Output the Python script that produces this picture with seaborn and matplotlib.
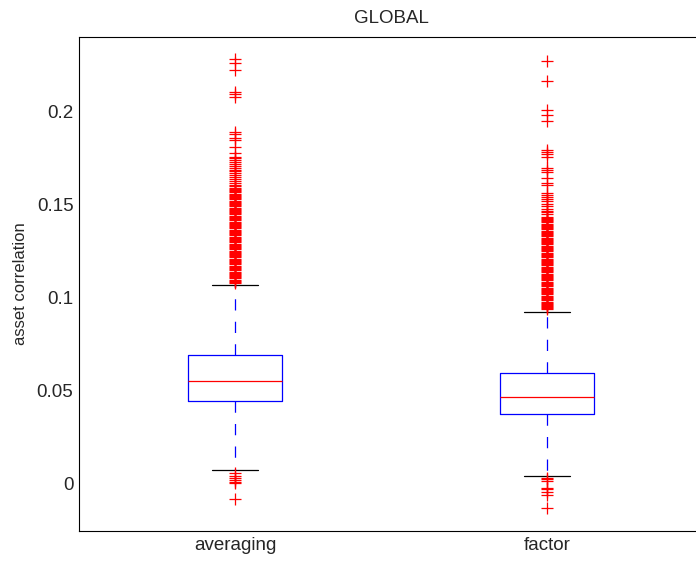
import numpy as np
import pandas as pd
import matplotlib
matplotlib.use("Agg")
import matplotlib.pyplot as plt
import seaborn as sns

# ---- data ----
categories = ["averaging", "factor"]

# box statistics (quartiles and whisker ends)
q1 = [0.0446, 0.0375]
median = [0.0552, 0.0468]
q3 = [0.0696, 0.0596]
whisker_low = [0.0075, 0.0045]
whisker_high = [0.1070, 0.0927]

# outliers
avg_low_outliers = [0.0061, 0.0045, 0.0032, 0.0022, 0.0011, 0.0005, -0.0081]
avg_high_outliers = [
    0.2283, 0.2262, 0.2224, 0.2109, 0.2096, 0.2083,
    0.1894, 0.1880, 0.1858, 0.1850, 0.1814, 0.1778, 0.1760, 0.1750,
    0.1742, 0.1730, 0.1722, 0.1712, 0.1700, 0.1690, 0.1680, 0.1670,
    0.1660, 0.1652, 0.1642, 0.1630, 0.1620, 0.1610, 0.1600, 0.1590,
    0.1580, 0.1568, 0.1555, 0.1542, 0.1530, 0.1518, 0.1505, 0.1492,
    0.1480, 0.1468, 0.1455, 0.1442, 0.1430, 0.1418, 0.1405, 0.1392,
    0.1380, 0.1368, 0.1355, 0.1342, 0.1330, 0.1318, 0.1305, 0.1292,
    0.1280, 0.1268, 0.1255, 0.1242, 0.1230, 0.1218, 0.1205, 0.1192,
    0.1180, 0.1168, 0.1155, 0.1142, 0.1130, 0.1118, 0.1105, 0.1092,
    0.1080,
    # dense part of the column
    0.1086, 0.1099, 0.1111, 0.1124, 0.1136, 0.1149, 0.1161, 0.1174,
    0.1186, 0.1199, 0.1211, 0.1224, 0.1236, 0.1249, 0.1261, 0.1274,
    0.1286, 0.1299, 0.1311, 0.1324, 0.1336, 0.1349, 0.1361, 0.1374,
    0.1386, 0.1399, 0.1411, 0.1424, 0.1436, 0.1449, 0.1461, 0.1474,
    0.1486, 0.1499, 0.1511, 0.1524, 0.1536, 0.1549, 0.1561, 0.1574,
    0.1585,
]
fac_low_outliers = [0.0031, 0.0025, 0.0018, -0.0023, -0.0029, -0.0043, -0.0059, -0.0131]
fac_high_outliers = [
    0.2276, 0.2167, 0.2011, 0.1984, 0.1953,
    0.1796, 0.1785, 0.1774, 0.1760, 0.1701, 0.1690, 0.1679, 0.1645,
    0.1618, 0.1608, 0.1565, 0.1555, 0.1545, 0.1530, 0.1520, 0.1505,
    0.1495, 0.1480, 0.1470, 0.1460, 0.1450,
    0.1437, 0.1425, 0.1412, 0.1400, 0.1388, 0.1375, 0.1362, 0.1350,
    0.1338, 0.1325, 0.1312, 0.1300, 0.1288, 0.1275, 0.1262, 0.1250,
    0.1238, 0.1225, 0.1212, 0.1200, 0.1188, 0.1175, 0.1162, 0.1150,
    0.1138, 0.1125, 0.1112, 0.1100, 0.1088, 0.1075, 0.1062, 0.1050,
    0.1038, 0.1025, 0.1012, 0.1000, 0.0988, 0.0975, 0.0962, 0.0950,
    0.0940,
    # dense part of the column
    0.0945, 0.0956, 0.0969, 0.0981, 0.0994, 0.1006, 0.1019, 0.1031,
    0.1044, 0.1056, 0.1069, 0.1081, 0.1094, 0.1106, 0.1119, 0.1131,
    0.1144, 0.1156, 0.1169, 0.1181, 0.1194, 0.1206, 0.1219, 0.1231,
    0.1244, 0.1256, 0.1269, 0.1281, 0.1294, 0.1306, 0.1319, 0.1331,
    0.1344, 0.1356, 0.1369, 0.1381, 0.1394, 0.1406, 0.1419, 0.1431,
]
low_outliers = [avg_low_outliers, fac_low_outliers]
high_outliers = [avg_high_outliers, fac_high_outliers]

# weight that pins the quartiles on the read values
REPEAT = 200

rows = []
for i, cat in enumerate(categories):
    vals = (list(low_outliers[i]) + [whisker_low[i]]
            + [q1[i]] * REPEAT + [median[i]] * REPEAT + [q3[i]] * REPEAT
            + [whisker_high[i]] + list(high_outliers[i]))
    rows += [(cat, v) for v in vals]
df = pd.DataFrame(rows, columns=["method", "asset correlation"])

# ---- style ----
sns.set_style("white")
plt.rcParams["font.family"] = ["Liberation Sans", "DejaVu Sans"]
plt.rcParams["xtick.direction"] = "in"
plt.rcParams["ytick.direction"] = "in"

fig = plt.figure(figsize=(6.96, 5.63), dpi=100)
ax = fig.add_axes([79 / 696, 1 - 530.5 / 563, 624 / 696, (530.5 - 37) / 563])

LW = 0.9
sns.boxplot(
    data=df, x="method", y="asset correlation", order=categories,
    ax=ax, width=0.3, fill=False, whis=1.5, linecolor="#0000ff", linewidth=LW,
    boxprops=dict(color="#0000ff", linewidth=LW),
    medianprops=dict(color="#ff0000", linewidth=LW),
    whiskerprops=dict(color="#0000ff", linewidth=LW, linestyle=(0, (9, 9))),
    capprops=dict(color="black", linewidth=LW),
    flierprops=dict(marker="+", color="#ff0000", markeredgecolor="#ff0000",
                    markersize=8.5, markeredgewidth=LW, linestyle="none"),
    capwidths=0.15,
)

ax.set_xlim(-0.5, 1.5)
ax.set_ylim(-0.025, 0.2403)
ax.set_yticks([0, 0.05, 0.1, 0.15, 0.2])
ax.set_yticklabels(["0", "0.05", "0.1", "0.15", "0.2"])
ax.set_xlabel("")
ax.set_ylabel("asset correlation", fontsize=12, labelpad=6)
ax.set_title("GLOBAL", fontsize=13.5, pad=10)
ax.tick_params(axis="both", labelsize=13.5, length=4, width=0.6, color="black",
               top=False, right=False)
ax.tick_params(axis="y", pad=4)
ax.tick_params(axis="x", pad=5)
for s in ax.spines.values():
    s.set_visible(True)
    s.set_color("black")
    s.set_linewidth(0.8)

fig.savefig("out.png", dpi=100)
